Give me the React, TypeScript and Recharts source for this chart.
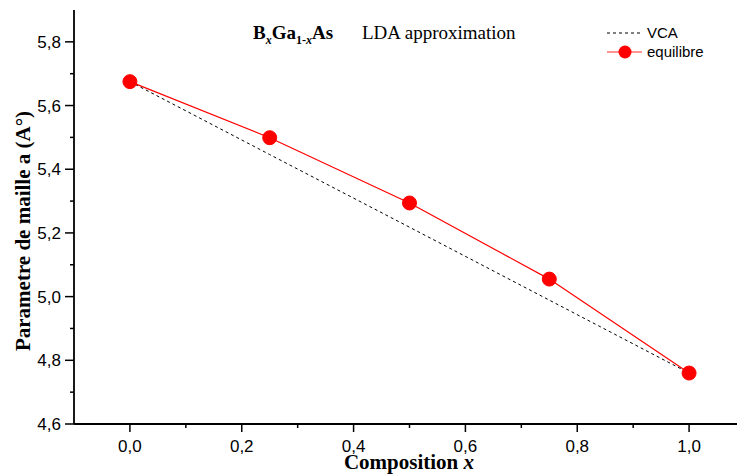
import React from 'react';
import { LineChart, Line, XAxis, YAxis } from 'recharts';

const compositions = [0, 0.25, 0.5, 0.75, 1.0];
const equilibreValues = [5.675, 5.499, 5.294, 5.055, 4.76];
const vcaValues = [5.675, 5.446, 5.218, 4.989, 4.76];

const xMajorTicks = [0, 0.2, 0.4, 0.6, 0.8, 1.0];
const xTickLabels = ['0,0', '0,2', '0,4', '0,6', '0,8', '1,0'];
const xMinorTicks = [0.1, 0.3, 0.5, 0.7, 0.9];
const yMajorTicks = [4.6, 4.8, 5.0, 5.2, 5.4, 5.6, 5.8];
const yTickLabels = ['4,6', '4,8', '5,0', '5,2', '5,4', '5,6', '5,8'];
const yMinorTicks = [4.7, 4.9, 5.1, 5.3, 5.5, 5.7];
const topTicks = [0, 0.1, 0.2, 0.3, 0.4, 0.5, 0.6, 0.7, 0.8, 0.9, 1.0, 1.1];

const data = compositions.map((c, i) => ({ x: c, vca: vcaValues[i], eq: equilibreValues[i] }));

const allX = [...xMajorTicks, ...xMinorTicks].sort((a, b) => a - b);
const allY = [...yMajorTicks, ...yMinorTicks].sort((a, b) => a - b);

const tickFont = '"Liberation Sans", Arial, sans-serif';
const serif = '"Liberation Serif", "Times New Roman", serif';

const XTick = (props: any) => {
  const { x, y, payload } = props;
  const idx = xMajorTicks.findIndex((t) => Math.abs(t - payload.value) < 1e-6);
  const major = idx >= 0;
  return (
    <g>
      <line x1={x} x2={x} y1={y} y2={y + (major ? 8 : 4)} stroke="#000" strokeWidth={1.5} />
      {major && (
        <text x={x} y={y + 28} textAnchor="middle" fontFamily={tickFont} fontSize={17} fill="#000">
          {xTickLabels[idx]}
        </text>
      )}
    </g>
  );
};

const YTick = (props: any) => {
  const { x, y, payload } = props;
  const idx = yMajorTicks.findIndex((t) => Math.abs(t - payload.value) < 1e-6);
  const major = idx >= 0;
  return (
    <g>
      <line x1={x} x2={x - (major ? 9 : 4)} y1={y} y2={y} stroke="#000" strokeWidth={1.5} />
      {major && (
        <text x={x - 13} y={y + 6} textAnchor="end" fontFamily={tickFont} fontSize={17} fill="#000">
          {yTickLabels[idx]}
        </text>
      )}
    </g>
  );
};

export default function App() {
  return (
    <div style={{ position: 'absolute', left: 0, top: 0, width: 737, height: 476, overflow: 'hidden', background: '#fff' }}>
      <LineChart width={745} height={476} data={data} margin={{ top: 10, right: 0, bottom: 0, left: 0 }}>
        <XAxis
          dataKey="x"
          type="number"
          domain={[-0.1, 1.1]}
          allowDataOverflow
          ticks={allX}
          interval={0}
          tickSize={0}
          tickMargin={0}
          tickLine={false}
          tick={<XTick />}
          height={52}
          axisLine={{ stroke: '#000', strokeWidth: 1.8 }}
        />
        <XAxis
          xAxisId="top"
          orientation="top"
          dataKey="x"
          type="number"
          domain={[-0.1, 1.1]}
          allowDataOverflow
          ticks={topTicks}
          interval={0}
          mirror
          height={0}
          tickSize={3}
          tick={false}
          tickLine={{ stroke: '#000', strokeWidth: 1.2 }}
          axisLine={{ stroke: '#000', strokeWidth: 1.8 }}
        />
        <YAxis
          type="number"
          domain={[4.6, 5.9]}
          allowDataOverflow
          ticks={allY}
          interval={0}
          tickSize={0}
          tickMargin={0}
          tickLine={false}
          tick={<YTick />}
          width={74}
          axisLine={{ stroke: '#000', strokeWidth: 1.8 }}
        />
        <Line
          dataKey="vca"
          stroke="#000"
          strokeWidth={1}
          strokeDasharray="3 3"
          dot={false}
          isAnimationActive={false}
        />
        <Line
          dataKey="eq"
          stroke="#ff0000"
          strokeWidth={1.2}
          dot={{ r: 7, fill: '#ff0000', stroke: '#ff0000', strokeWidth: 1 }}
          isAnimationActive={false}
        />
      </LineChart>
      <svg width={737} height={476} style={{ position: 'absolute', left: 0, top: 0, pointerEvents: 'none' }}>
        <text x={253} y={39} fontFamily={serif} fontSize={19} fontWeight="bold" fill="#000">
          B
          <tspan fontSize={12} fontStyle="italic" dy={5}>x</tspan>
          <tspan dy={-5}>Ga</tspan>
          <tspan fontSize={12} dy={5}>1-</tspan>
          <tspan fontSize={12} fontStyle="italic">x</tspan>
          <tspan dy={-5}>As</tspan>
        </text>
        <text x={362} y={39} fontFamily={serif} fontSize={19} fill="#000">
          LDA approximation
        </text>
        <line x1={607} x2={642} y1={33} y2={33} stroke="#000" strokeWidth={1} strokeDasharray="3 3" />
        <text x={647} y={38} fontFamily={tickFont} fontSize={15} fill="#000">VCA</text>
        <line x1={607} x2={642} y1={52} y2={52} stroke="#ff7070" strokeWidth={1.5} />
        <circle cx={625} cy={52} r={6.5} fill="#ff0000" />
        <text x={647} y={57} fontFamily={tickFont} fontSize={15} fill="#000">equilibre</text>
        <text
          transform="translate(30 231) rotate(-90)"
          textAnchor="middle"
          fontFamily={serif}
          fontSize={21}
          fontWeight="bold"
          fill="#000"
        >
          Parametre de maille a (A°)
        </text>
        <text x={409} y={469} textAnchor="middle" fontFamily={serif} fontSize={21} fontWeight="bold" fill="#000">
          Composition <tspan fontStyle="italic">x</tspan>
        </text>
      </svg>
    </div>
  );
}
